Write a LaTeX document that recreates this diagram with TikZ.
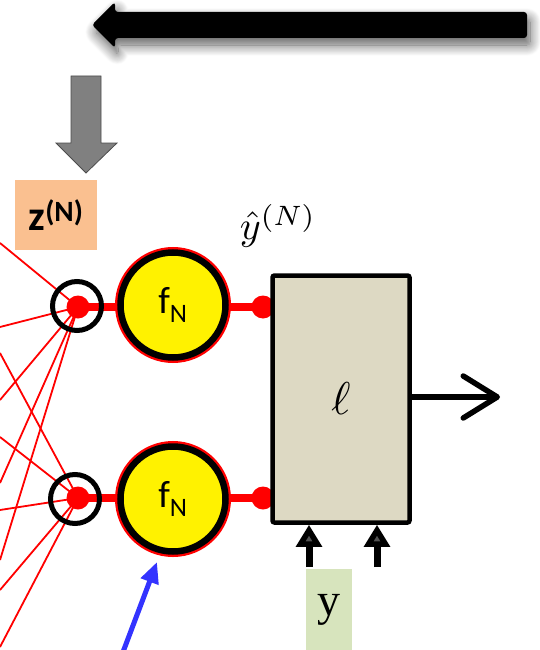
\documentclass[tikz,border=0pt]{standalone}
\usepackage{fontspec}
\newfontfamily\calibri{Carlito}
\newfontfamily\timesfont{Liberation Serif}
\usepackage{tikz}
\usetikzlibrary{arrows.meta,positioning,calc,shadows.blur}
\definecolor{peach}{RGB}{250,192,144}
\definecolor{sage}{RGB}{215,228,189}
\definecolor{khaki}{RGB}{221,217,195}
\definecolor{arrowgray}{RGB}{128,128,128}
\definecolor{brightblue}{RGB}{51,51,255}

\begin{document}
\begin{tikzpicture}[
    x=1pt, y=-1pt,
    dot/.style={circle, fill=red, inner sep=0pt, minimum size=23pt},
    ring/.style={circle, draw=black, line width=5pt, inner sep=0pt, minimum size=49pt},
    neuron/.style={circle, draw=black, line width=6.5pt, fill=yellow, inner sep=0pt,
        minimum size=105pt, preaction={draw=red, line width=11pt},
        font=\calibri\fontsize{38}{40}\selectfont},
    lossbox/.style={rectangle, rounded corners=2pt, draw=black, line width=4.5pt, fill=khaki,
        minimum width=137pt, minimum height=247pt},
    tag/.style={rectangle, inner sep=0pt},
    wire/.style={red, line width=1.8pt},
    link/.style={red, line width=8pt},
    outarr/.style={-{Straight Barb[length=34pt, width=42pt, round]}, line width=5.5pt, line cap=round},
    inarr/.style={-{Triangle[length=22pt, width=25pt]}, line width=7pt},
    gradarr/.style={-{Triangle[length=21pt, width=18pt]}, line width=5pt, brightblue}
]
\useasboundingbox (0,0) rectangle (539,650);

% backward pass arrow
\fill[black, rounded corners=3pt, blur shadow={shadow xshift=3pt, shadow yshift=-7pt, shadow blur radius=11pt, shadow blur steps=14, shadow opacity=65}]
    (527,12) -- (115,12) -- (115,2) -- (92,25) -- (115,48) -- (115,38) -- (527,38) -- cycle;

% gray arrow into z
\filldraw[fill=arrowgray, draw=black!70, line width=0.8pt]
    (71,76) -- (101,76) -- (101,143) -- (117,143) -- (86,173) -- (56,143) -- (71,143) -- cycle;

% hubs and output dots
\node[dot] (hubA) at (78,307) {};
\node[dot] (hubB) at (78,498) {};
\node[dot] (outA) at (263,307) {};
\node[dot] (outB) at (263,498) {};

\foreach \ya/\yb [count=\i] in {243/353, 327/437, 400/510, 483/590, 560/647} {
    \coordinate (inA\i) at (0,\ya);
    \coordinate (inB\i) at (0,\yb);
    \draw[wire] (inA\i) -- (hubA.center);
    \draw[wire] (inB\i) -- (hubB.center);
}
\draw[link] (hubA.center) -- (outA.center);
\draw[link] (hubB.center) -- (outB.center);

\node[ring] (ringA) at (77,306) {};
\node[ring] (ringB) at (75,499) {};

\node[neuron] (fA) at (173,305) {f\textsubscript{N}};
\node[neuron] (fB) at (173,499) {f\textsubscript{N}};

\node[lossbox] (loss) at (341,399) {\scalebox{4.6}{$\ell$}};

\node[tag, fill=peach, minimum width=82pt, minimum height=70pt, font=\calibri\bfseries\fontsize{42}{44}\selectfont]
    (zlab) at (56,215) {z\textsuperscript{(N)}};
\node (yhat) at (278,226) {\scalebox{4}{$\hat{y}^{(N)}$}};

% loss output
\coordinate (lossout) at (500,397);
\draw[outarr] (loss.east |- lossout) -- (lossout);

% targets
\node[tag, fill=sage, minimum width=46pt, minimum height=82pt, font=\timesfont\fontsize{46}{50}\selectfont]
    (ylab) at (329,610) {\raisebox{-8pt}{y}};
\coordinate (yinA) at (309,567);
\coordinate (yinB) at (377,567);
\draw[inarr] (yinA) -- (yinA |- loss.south);
\draw[inarr] (yinB) -- (yinB |- loss.south);

% gradient arrow
\coordinate (gradin) at (123,652);
\coordinate (gradtip) at (157,562);
\draw[gradarr] (gradin) -- (gradtip);
\end{tikzpicture}
\end{document}
